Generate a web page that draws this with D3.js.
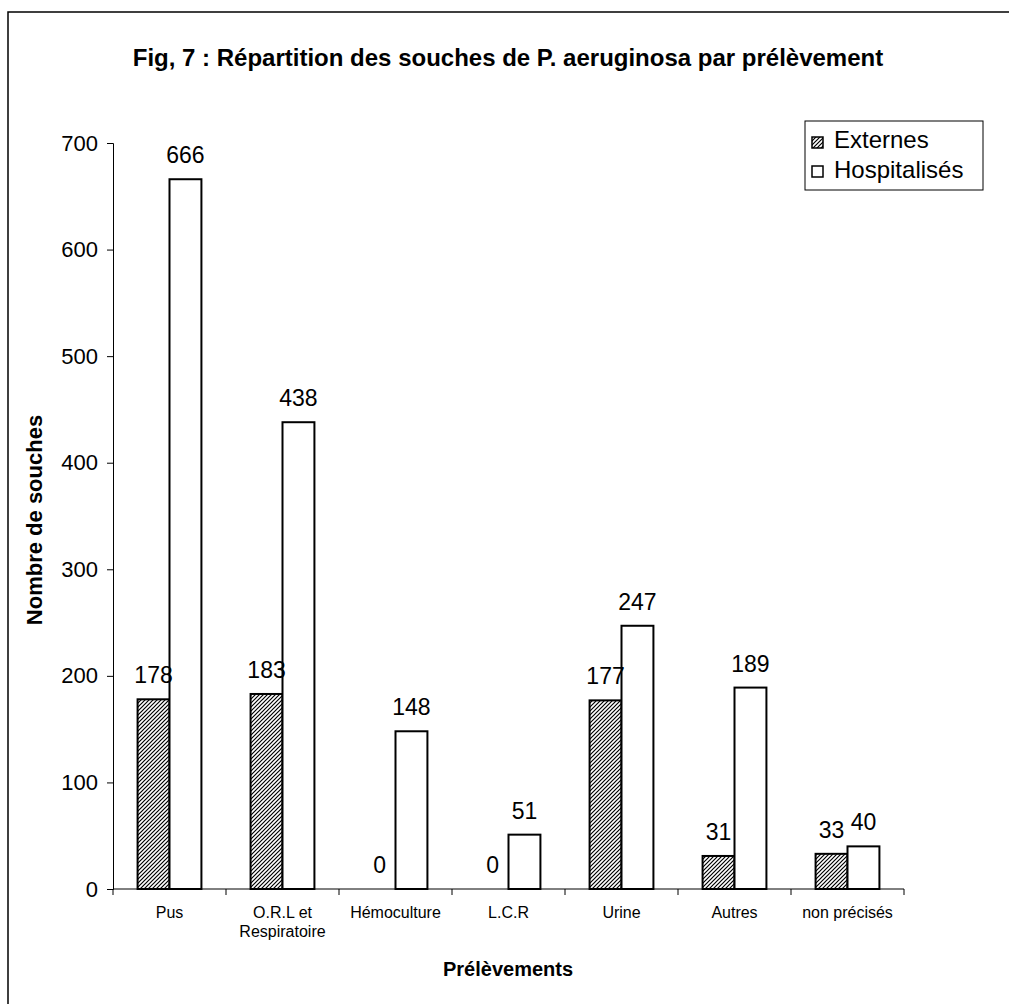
<!DOCTYPE html>
<html>
<head>
<meta charset="utf-8">
<script src="https://cdn.jsdelivr.net/npm/d3@7"></script>
<style>
  body { margin: 0; background: #fff; }
  svg text { font-family: Arial, "Liberation Sans", sans-serif; fill: #000; }
</style>
</head>
<body>
<div id="canvas"></div>
<script>
// Data
const categories = ['Pus', 'O.R.L et\nRespiratoire', 'Hémoculture', 'L.C.R', 'Urine', 'Autres', 'non précisés'];
const seriesNames = ['Externes', 'Hospitalisés'];
const externes = [178, 183, 0, 0, 177, 31, 33];
const hospitalises = [666, 438, 148, 51, 247, 189, 40];
const yTicks = [0, 100, 200, 300, 400, 500, 600, 700];

const width = 1009, height = 1004;

const svg = d3.select('#canvas')
  .append('svg')
  .attr('width', width)
  .attr('height', height);

// hatch pattern for Externes
const defs = svg.append('defs');
defs.append('pattern')
  .attr('id', 'hatch')
  .attr('patternUnits', 'userSpaceOnUse')
  .attr('width', 4)
  .attr('height', 4)
  .call(p => {
    p.append('rect').attr('width', 4).attr('height', 4).attr('fill', '#fff');
    p.append('path')
      .attr('d', 'M-1,1 l2,-2 M0,4 l4,-4 M3,5 l2,-2')
      .attr('stroke', '#000')
      .attr('stroke-width', 1.2);
  });

// outer frame (right and bottom edges run off the picture)
svg.append('rect')
  .attr('x', 8).attr('y', 12)
  .attr('width', 1020).attr('height', 1020)
  .attr('fill', 'none')
  .attr('stroke', '#000')
  .attr('stroke-width', 1.5);

// title
svg.append('text')
  .attr('x', 508).attr('y', 66)
  .attr('text-anchor', 'middle')
  .style('font-size', '24px')
  .style('font-weight', 'bold')
  .text('Fig, 7 : Répartition des souches de P. aeruginosa par prélèvement');

// scales
const x = d3.scaleBand()
  .domain(categories)
  .range([113, 904])
  .paddingInner(0)
  .paddingOuter(0);

const xs = d3.scaleBand()
  .domain(seriesNames)
  .range([0, x.bandwidth()])
  .paddingInner(0)
  .paddingOuter(0.77);

const y = d3.scaleLinear()
  .domain([0, 700])
  .range([889, 143]);

// y axis
const yAxis = svg.append('g')
  .attr('transform', 'translate(113,0)')
  .call(d3.axisLeft(y).tickValues(yTicks).tickSize(6).tickPadding(9));
yAxis.select('.domain').attr('stroke', '#000');
yAxis.selectAll('.tick line').attr('stroke', '#000');
yAxis.selectAll('.tick text')
  .style('font-size', '22px')
  .style('font-family', 'Arial, "Liberation Sans", sans-serif');

// bars
const rows = categories.map((c, i) => ({ cat: c, values: [externes[i], hospitalises[i]] }));

const groups = svg.append('g')
  .selectAll('g')
  .data(rows)
  .enter()
  .append('g')
  .attr('transform', d => `translate(${x(d.cat)},0)`);

groups.selectAll('rect')
  .data(d => d.values.map((v, j) => ({ s: seriesNames[j], v: v })))
  .enter()
  .append('rect')
  .attr('x', d => xs(d.s))
  .attr('y', d => y(d.v))
  .attr('width', xs.bandwidth())
  .attr('height', d => y(0) - y(d.v))
  .attr('fill', d => d.s === 'Externes' ? 'url(#hatch)' : '#fff')
  .attr('stroke', '#000')
  .attr('stroke-width', d => d.v === 0 ? 0 : 2);

// value labels
groups.selectAll('text.val')
  .data(d => d.values.map((v, j) => ({ s: seriesNames[j], v: v })))
  .enter()
  .append('text')
  .attr('class', 'val')
  .attr('x', d => xs(d.s) + xs.bandwidth() / 2)
  .attr('y', d => y(d.v) - 16)
  .attr('text-anchor', 'middle')
  .style('font-size', '23px')
  .text(d => d.v);

// x axis line and boundary ticks
svg.append('line')
  .attr('x1', 113).attr('x2', 904)
  .attr('y1', y(0)).attr('y2', y(0))
  .attr('stroke', '#000');
const bounds = categories.map(c => x(c)).concat([x.range()[1]]);
svg.append('g')
  .selectAll('line')
  .data(bounds)
  .enter()
  .append('line')
  .attr('x1', d => d).attr('x2', d => d)
  .attr('y1', y(0)).attr('y2', y(0) + 6)
  .attr('stroke', '#000');

// category labels
const catLabels = svg.append('g')
  .selectAll('text')
  .data(categories)
  .enter()
  .append('text')
  .attr('x', d => x(d) + x.bandwidth() / 2)
  .attr('y', 918)
  .attr('text-anchor', 'middle')
  .style('font-size', '16px');
catLabels.each(function(d) {
  const t = d3.select(this);
  d.split('\n').forEach((line, i) => {
    t.append('tspan')
      .attr('x', x(d) + x.bandwidth() / 2)
      .attr('dy', i === 0 ? 0 : 19)
      .text(line);
  });
});

// axis titles
svg.append('text')
  .attr('x', 508).attr('y', 976)
  .attr('text-anchor', 'middle')
  .style('font-size', '20px')
  .style('font-weight', 'bold')
  .text('Prélèvements');

svg.append('text')
  .attr('transform', 'translate(42,520) rotate(-90)')
  .attr('text-anchor', 'middle')
  .style('font-size', '22px')
  .style('font-weight', 'bold')
  .text('Nombre de souches');

// legend
const legend = svg.append('g').attr('class', 'legend');
legend.append('rect')
  .attr('x', 805).attr('y', 121)
  .attr('width', 178).attr('height', 69)
  .attr('fill', '#fff')
  .attr('stroke', '#000')
  .attr('stroke-width', 1);

const legItems = legend.selectAll('g')
  .data(seriesNames)
  .enter()
  .append('g')
  .attr('transform', (d, i) => `translate(812,${137 + i * 29})`);
legItems.append('rect')
  .attr('width', 11).attr('height', 11)
  .attr('fill', d => d === 'Externes' ? 'url(#hatch)' : '#fff')
  .attr('stroke', '#000')
  .attr('stroke-width', 1.5);
legItems.append('text')
  .attr('x', 22).attr('y', (d, i) => 11 + i * 1)
  .style('font-size', '24px')
  .text(d => d);
</script>
</body>
</html>
